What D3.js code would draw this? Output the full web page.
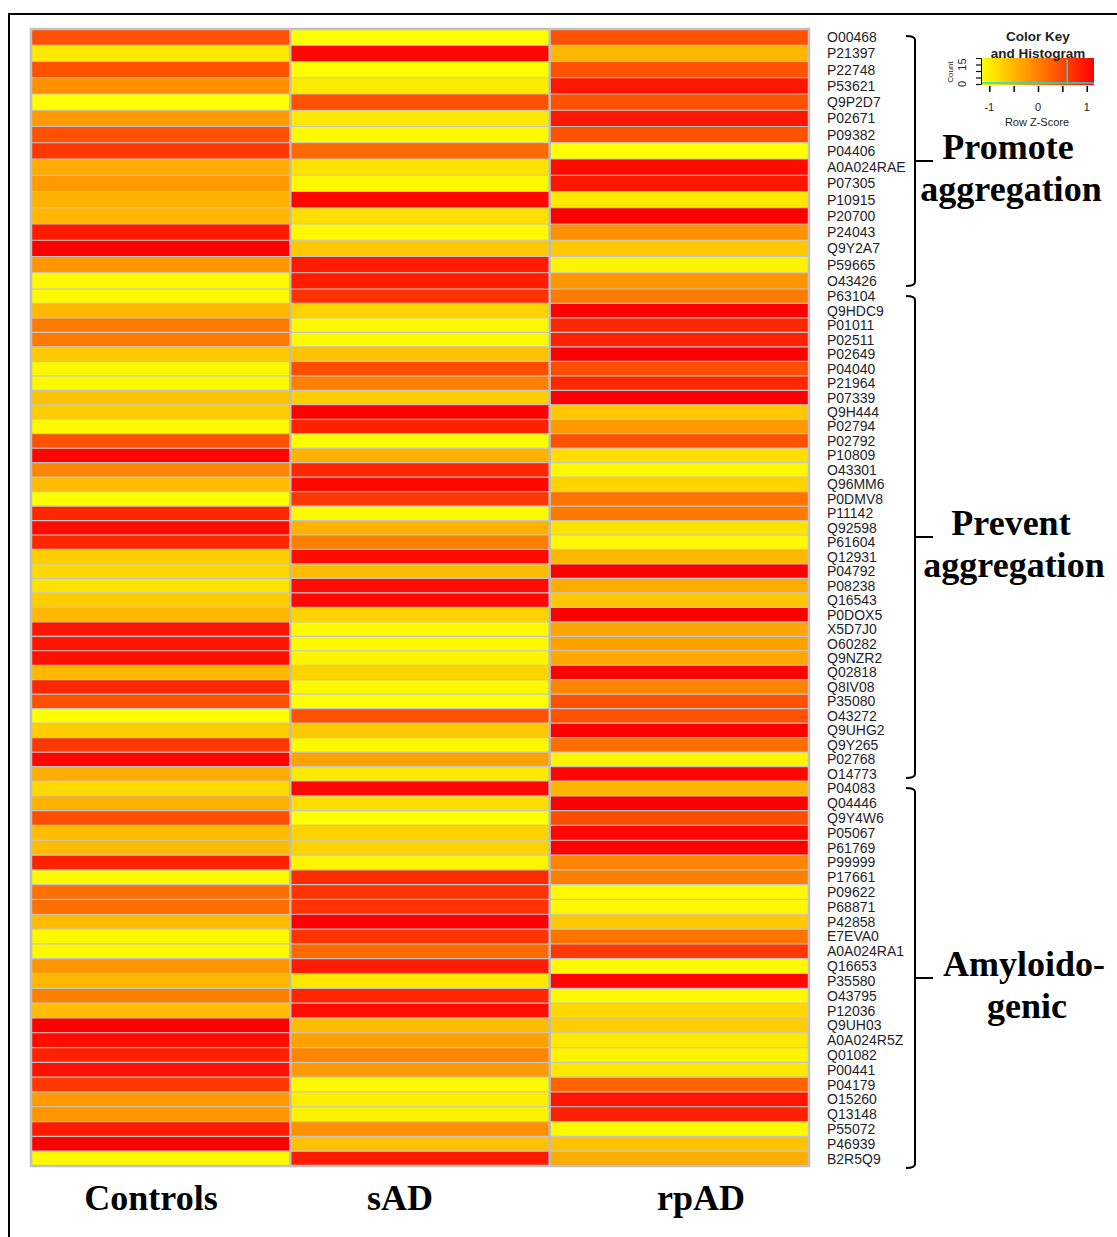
<!DOCTYPE html>
<html>
<head>
<meta charset="utf-8">
<script src="https://cdn.jsdelivr.net/npm/d3@7"></script>
<style>
	body { margin: 0; background: #fff; }
	.rowlab { font-family: Arial, "Liberation Sans", sans-serif; font-size: 14px; fill: #1e1e28; }
	.big { font-family: "Times New Roman", "Liberation Serif", serif; font-weight: bold; font-size: 36px; fill: #000; }
	.key { font-family: Arial, "Liberation Sans", sans-serif; fill: #222; }
</style>
</head>
<body>
<svg width="1117" height="1237"></svg>
<script>

// protein accessions, in heatmap order
var proteins = [
	"O00468","P21397","P22748","P53621","Q9P2D7","P02671","P09382","P04406","A0A024RAE","P07305",
	"P10915","P20700","P24043","Q9Y2A7","P59665","O43426",
	"P63104","Q9HDC9","P01011","P02511","P02649","P04040","P21964","P07339","Q9H444","P02794",
	"P02792","P10809","O43301","Q96MM6","P0DMV8","P11142","Q92598","P61604","Q12931","P04792",
	"P08238","Q16543","P0DOX5","X5D7J0","O60282","Q9NZR2","Q02818","Q8IV08","P35080","O43272",
	"Q9UHG2","Q9Y265","P02768","O14773",
	"P04083","Q04446","Q9Y4W6","P05067","P61769","P99999","P17661","P09622","P68871","P42858",
	"E7EVA0","A0A024RA1","Q16653","P35580","O43795","P12036","Q9UH03","A0A024R5Z","Q01082","P00441",
	"P04179","O15260","Q13148","P55072","P46939","B2R5Q9"
];

var columns = ["Controls", "sAD", "rpAD"];

var groupNames = [["Promote", "aggregation"], ["Prevent", "aggregation"], ["Amyloido-", "genic"]];
var groupSizes = [16, 34, 26];

// row z-scores
var controls = [
	0.42,-0.95,0.42,-0.15,-1.15,-0.25,0.42,0.65,-0.4,-0.25,
	-0.45,-0.5,0.9,1.15,-0.2,-1.1,
	-1.1,-0.5,0.05,0.05,-0.65,-1.1,-1.1,-0.6,-0.7,-1.1,
	0.42,1.1,-0.05,-0.55,-1.15,0.8,1.05,0.8,-0.7,-0.8,
	-0.9,-0.7,-0.5,0.95,0.95,1.0,-0.5,0.8,0.42,-1.15,
	-0.7,0.65,1.1,-0.4,
	-0.8,-0.45,0.45,-0.55,-0.55,0.85,-1.1,0.15,0.15,-0.55,
	-1.1,-1.1,-0.2,-0.5,0.0,-0.55,1.15,1.05,0.85,1.0,
	0.65,-0.25,-0.2,0.9,1.15,-1.1
];
var sAD = [
	-1.15,1.1,-1.15,-0.97,0.42,-0.95,-1.1,0.2,-0.9,-1.1,
	1.1,-0.85,-1.1,-0.65,0.9,0.9,
	0.7,-0.75,-1.1,-1.1,-0.6,0.45,0.0,-0.7,1.15,0.85,
	-1.15,-0.45,0.8,1.1,0.65,-1.1,-0.45,0.0,1.05,-0.55,
	1.05,1.1,-0.75,-1.1,-1.1,-1.05,-0.75,-1.1,-1.15,0.42,
	-0.65,-1.1,-0.3,-0.95,
	1.1,-0.85,-1.15,-0.75,-0.75,-1.05,0.75,0.7,0.7,1.15,
	0.7,0.2,0.9,-0.95,0.8,1.05,-0.55,-0.3,-0.05,-0.25,
	-1.1,-1.0,-1.05,-0.15,-0.6,0.9
];
var rpAD = [
	0.42,-0.5,0.42,0.95,0.42,0.95,0.42,-1.15,1.05,0.95,
	-0.95,1.15,-0.15,-0.65,-1.05,-0.2,
	0.05,1.15,0.8,0.85,1.15,0.45,0.8,1.15,-0.65,-0.25,
	0.42,-0.85,-1.1,-0.75,0.1,0.05,-0.9,-1.1,-0.5,1.15,
	-0.4,-0.65,1.15,-0.35,-0.3,-0.35,1.15,-0.05,0.42,0.42,
	1.15,0.15,-1.05,1.1,
	-0.5,1.15,0.45,1.1,1.15,-0.05,0.0,-1.1,-1.1,-0.65,
	0.1,0.65,-1.1,1.1,-1.1,-0.8,-0.7,-0.95,-1.05,-0.95,
	0.25,0.95,0.85,-1.1,-0.6,-0.4
];

var keyTicks = [-1, -0.5, 0, 0.5, 1];
var keyTickLabels = [-1, 0, 1];

var svg = d3.select("svg");

// outer frame
svg.append("path")
	.attr("d", "M9,1237V14H1117")
	.attr("fill", "none")
	.attr("stroke", "#000")
	.attr("stroke-width", 2);

var color = d3.scaleLinear().domain([-1.15, 1.15]).range(["#ffff00", "#ff0000"]);

var x = d3.scaleBand().domain(columns).range([31, 809]);

// the three blocks have slightly different row heights in the figure
var blockEdges = [29, 289, 781, 1166];
var rows = [];
var start = 0;
groupSizes.forEach(function(n, g) {
	var names = proteins.slice(start, start + n);
	var y = d3.scaleBand().domain(names).range([blockEdges[g], blockEdges[g + 1]]);
	names.forEach(function(p, i) {
		var k = start + i;
		rows.push({ id: p, group: g, y: y(p), h: y.bandwidth(), values: [controls[k], sAD[k], rpAD[k]] });
	});
	start += n;
});

var cells = [];
rows.forEach(function(r) {
	columns.forEach(function(c, j) {
		cells.push({ row: r, col: c, v: r.values[j] });
	});
});

var heat = svg.append("g");
heat.selectAll("rect.cell")
	.data(cells)
	.enter().append("rect")
	.attr("class", "cell")
	.attr("x", function(d) { return x(d.col); })
	.attr("y", function(d) { return d.row.y; })
	.attr("width", x.bandwidth())
	.attr("height", function(d) { return d.row.h; })
	.attr("fill", function(d) { return color(d.v); });

// grid lines
heat.selectAll("line.hsep")
	.data(rows.slice(1))
	.enter().append("line")
	.attr("x1", 31).attr("x2", 809)
	.attr("y1", function(d) { return d.y; })
	.attr("y2", function(d) { return d.y; })
	.attr("stroke", "#c4c4c4")
	.attr("stroke-width", 1.2);

heat.selectAll("line.vsep")
	.data(columns.slice(1))
	.enter().append("line")
	.attr("x1", function(d) { return x(d); })
	.attr("x2", function(d) { return x(d); })
	.attr("y1", 29).attr("y2", 1166)
	.attr("stroke", "#bdbdbd")
	.attr("stroke-width", 2.5);

heat.append("rect")
	.attr("x", 31).attr("y", 29)
	.attr("width", 778).attr("height", 1137)
	.attr("fill", "none")
	.attr("stroke", "#c0c0c0")
	.attr("stroke-width", 2.5);

// row labels
svg.append("g").selectAll("text")
	.data(rows)
	.enter().append("text")
	.attr("class", "rowlab")
	.attr("x", 827)
	.attr("y", function(d) { return d.y + d.h / 2 + 5; })
	.text(function(d) { return d.id; });

// column labels
var colLabelX = [151, 400, 701];
svg.append("g").selectAll("text")
	.data(columns)
	.enter().append("text")
	.attr("class", "big")
	.attr("text-anchor", "middle")
	.attr("x", function(d, i) { return colLabelX[i]; })
	.attr("y", 1210)
	.text(function(d) { return d; });

// colour key
var kx = d3.scaleLinear().domain([-1.15, 1.15]).range([982, 1094]);
var ky = d3.scaleLinear().domain([0, 20]).range([84, 58]);
var key = svg.append("g");

var grad = svg.append("defs").append("linearGradient").attr("id", "kg");
grad.selectAll("stop")
	.data(d3.range(0, 1.0001, 0.1))
	.enter().append("stop")
	.attr("offset", function(d) { return d; })
	.attr("stop-color", function(d) { return color(-1.15 + d * 2.3); });

key.append("rect")
	.attr("x", kx(-1.15)).attr("y", 58)
	.attr("width", kx(1.15) - kx(-1.15)).attr("height", 27)
	.attr("fill", "url(#kg)");

key.append("line")
	.attr("x1", kx(-1.15)).attr("x2", kx(1.15))
	.attr("y1", ky(0) - 1).attr("y2", ky(0) - 1)
	.attr("stroke", "#00e5ee").attr("stroke-width", 1.5);
key.append("line")
	.attr("x1", kx(0.6)).attr("x2", kx(0.6))
	.attr("y1", ky(0)).attr("y2", 59)
	.attr("stroke", "#00e5ee").attr("stroke-width", 1.5);

key.append("g")
	.attr("transform", "translate(0,86)")
	.call(d3.axisBottom(kx).tickValues(keyTicks).tickFormat("").tickSize(6))
	.call(function(g) { g.select(".domain").remove(); g.selectAll("line").attr("stroke-width", 1.5); });

key.selectAll("text.kt")
	.data(keyTickLabels)
	.enter().append("text")
	.attr("class", "key")
	.attr("font-size", 11)
	.attr("text-anchor", "middle")
	.attr("x", function(d) { return kx(d); })
	.attr("y", 111)
	.text(function(d) { return d; });

key.append("g")
	.attr("transform", "translate(981,0)")
	.call(d3.axisLeft(ky).tickValues([0, 5, 10, 15]).tickFormat("").tickSize(5))
	.call(function(g) { g.selectAll("line").attr("stroke-width", 1.2); });

[[0, 84], [15, 66]].forEach(function(t) {
	key.append("text")
		.attr("class", "key")
		.attr("font-size", 11)
		.attr("text-anchor", "middle")
		.attr("transform", "translate(966," + ky(t[0]) + ") rotate(-90)")
		.text(t[0]);
});
key.append("text")
	.attr("class", "key")
	.attr("font-size", 8)
	.attr("text-anchor", "middle")
	.attr("transform", "translate(953,72) rotate(-90)")
	.text("Count");

key.append("text").attr("class", "key").attr("font-size", 13.5).attr("font-weight", "bold")
	.attr("text-anchor", "middle").attr("x", 1038).attr("y", 41).text("Color Key");
key.append("text").attr("class", "key").attr("font-size", 13.5).attr("font-weight", "bold")
	.attr("text-anchor", "middle").attr("x", 1038).attr("y", 58).text("and Histogram");
key.append("text").attr("class", "key").attr("font-size", 11)
	.attr("text-anchor", "middle").attr("x", 1037).attr("y", 126).text("Row Z-Score");

// group brackets and names
var bracketEnds = [];
var s = 0;
groupSizes.forEach(function(n, g) {
	var first = rows[s], last = rows[s + n - 1];
	bracketEnds.push({ g: g, top: first.y + 7, bottom: last.y + last.h - 3 });
	s += n;
});
bracketEnds[2].bottom += 5;

var br = svg.append("g")
	.attr("fill", "none")
	.attr("stroke", "#000")
	.attr("stroke-width", 2);
br.selectAll("path")
	.data(bracketEnds)
	.enter().append("path")
	.attr("d", function(d) {
		var mid = (d.top + d.bottom) / 2;
		return "M906," + d.top + "Q915," + d.top + " 915," + (d.top + 4) +
			"V" + (d.bottom - 4) + "Q915," + d.bottom + " 906," + d.bottom +
			"M915," + mid + "H933";
	});

var nameX = [1010, 1013, 1026];
svg.append("g").selectAll("g")
	.data(bracketEnds)
	.enter().append("g")
	.each(function(d) {
		var mid = (d.top + d.bottom) / 2;
		var lines = groupNames[d.g];
		d3.select(this).selectAll("text")
			.data(lines)
			.enter().append("text")
			.attr("class", "big")
			.attr("text-anchor", "middle")
			.attr("x", function(t, i) { return i == 0 ? nameX[d.g] - 2 : nameX[d.g] + 1; })
			.attr("y", function(t, i) { return mid - 2 + i * 42; })
			.text(function(t) { return t; });
	});

</script>
</body>
</html>
